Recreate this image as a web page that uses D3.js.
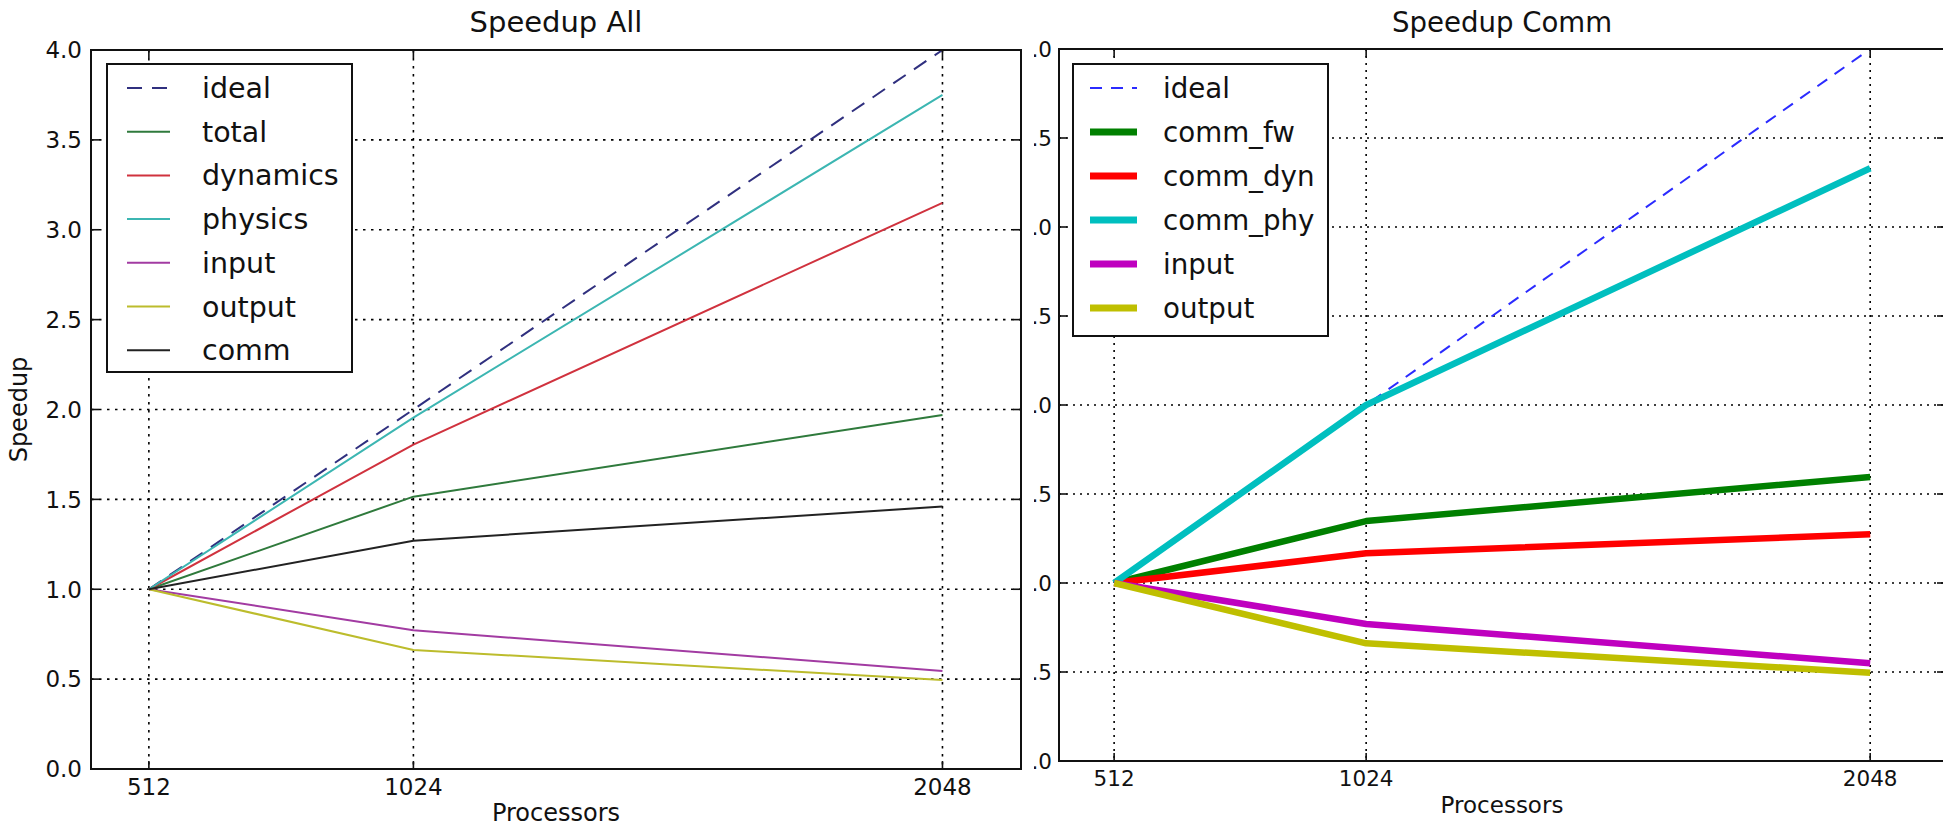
<!DOCTYPE html>
<html>
<head>
<meta charset="utf-8">
<script src="https://cdn.jsdelivr.net/npm/d3@7"></script>
<style>
  html, body { margin: 0; padding: 0; background: #fff; }
  svg { display: block; font-family: "DejaVu Sans", sans-serif; }
</style>
</head>
<body>
<svg id="chart"></svg>
<script>
const width = 1943;
const height = 827;

// data
const procs = [512, 1024, 2048];
const yTicks = [0, 0.5, 1, 1.5, 2, 2.5, 3, 3.5, 4];

// Speedup All
const allNames = ["ideal", "total", "dynamics", "physics", "input", "output", "comm"];
const allIdeal = [1, 2, 4];
const allTotal = [1, 1.515, 1.97];
const allDynamics = [1, 1.805, 3.15];
const allPhysics = [1, 1.955, 3.75];
const allInput = [1, 0.772, 0.545];
const allOutput = [1, 0.662, 0.495];
const allComm = [1, 1.27, 1.46];
const allColors = ["#30307f", "#2f7a3c", "#d0323e", "#3cb6b2", "#a23ba2", "#bcbc2c", "#222222"];

// Speedup Comm
const commNames = ["ideal", "comm_fw", "comm_dyn", "comm_phy", "input", "output"];
const commIdeal = [1, 2, 4];
const commFw = [1, 1.348, 1.596];
const commDyn = [1, 1.167, 1.274];
const commPhy = [1, 2.0, 3.33];
const commInput = [1, 0.77, 0.549];
const commOutput = [1, 0.661, 0.496];
const commColors = ["#2b2bff", "#008000", "#ff0000", "#00bfbf", "#bf00bf", "#bfbf00"];

const svg = d3.select("#chart").attr("width", width).attr("height", height);
svg.append("rect").attr("width", width).attr("height", height).attr("fill", "#fff");

function drawPanel(opt, names, series, colors) {
  const g = svg.append("g");
  if (opt.clipX != null) {
    svg.append("clipPath").attr("id", "clip" + opt.id)
      .append("rect").attr("x", opt.clipX).attr("y", 0).attr("width", width).attr("height", height);
    g.attr("clip-path", `url(#clip${opt.id})`);
  }

  const x = d3.scaleLinear().domain([400, 2200]).range([opt.left, opt.right]);
  const y = d3.scaleLinear().domain([0, 4]).range([opt.bottom, opt.top]);

  // grid
  const grid = g.append("g").attr("stroke", "#000").attr("stroke-width", 1.6)
    .attr("stroke-dasharray", opt.gridDash);
  grid.selectAll("line.gx").data(procs).join("line")
    .attr("x1", d => x(d)).attr("x2", d => x(d))
    .attr("y1", opt.top).attr("y2", opt.bottom);
  grid.selectAll("line.gy").data(yTicks.slice(1, -1)).join("line")
    .attr("y1", d => y(d)).attr("y2", d => y(d))
    .attr("x1", opt.left).attr("x2", opt.right);

  // lines
  const line = d3.line().x((d, i) => x(procs[i])).y(d => y(d));
  series.forEach((s, i) => {
    const isIdeal = i === 0;
    g.append("path")
      .attr("d", line(s))
      .attr("fill", "none")
      .attr("stroke", colors[i])
      .attr("stroke-width", isIdeal ? opt.idealWidth : opt.lineWidth)
      .attr("stroke-dasharray", isIdeal ? opt.idealDash : null)
      .attr("stroke-linejoin", "round");
  });

  // ticks inward on all sides
  const tk = 8;
  const ticks = g.append("g").attr("stroke", "#111").attr("stroke-width", 1.6);
  procs.forEach(p => {
    ticks.append("line").attr("x1", x(p)).attr("x2", x(p)).attr("y1", opt.bottom).attr("y2", opt.bottom - tk);
    ticks.append("line").attr("x1", x(p)).attr("x2", x(p)).attr("y1", opt.top).attr("y2", opt.top + tk);
  });
  yTicks.forEach(v => {
    ticks.append("line").attr("y1", y(v)).attr("y2", y(v)).attr("x1", opt.left).attr("x2", opt.left + tk);
    ticks.append("line").attr("y1", y(v)).attr("y2", y(v)).attr("x1", opt.right).attr("x2", opt.right - tk);
  });

  // frame
  g.append("rect")
    .attr("x", opt.left).attr("y", opt.top)
    .attr("width", opt.right - opt.left).attr("height", opt.bottom - opt.top)
    .attr("fill", "none").attr("stroke", "#111").attr("stroke-width", 2);

  // tick labels
  g.selectAll("text.yt").data(yTicks).join("text")
    .attr("x", opt.yLabelX).attr("y", d => y(d) + opt.tickFont * 0.36)
    .attr("text-anchor", "end").attr("font-size", opt.tickFont).attr("fill", "#111")
    .text(d => d3.format(".1f")(d));
  g.selectAll("text.xt").data(procs).join("text")
    .attr("x", d => x(d)).attr("y", opt.xLabelY)
    .attr("text-anchor", "middle").attr("font-size", opt.tickFont).attr("fill", "#111")
    .text(d => d);

  // titles
  g.append("text").attr("x", (opt.left + opt.right) / 2).attr("y", 32)
    .attr("text-anchor", "middle").attr("font-size", opt.titleFont).attr("fill", "#111")
    .text(opt.title);
  g.append("text").attr("x", (opt.left + opt.right) / 2).attr("y", opt.xTitleY)
    .attr("text-anchor", "middle").attr("font-size", opt.axisFont).attr("fill", "#111")
    .text("Processors");
  if (opt.yTitle) {
    g.append("text")
      .attr("transform", `translate(27,${(opt.top + opt.bottom) / 2}) rotate(-90)`)
      .attr("text-anchor", "middle").attr("font-size", opt.axisFont).attr("fill", "#111")
      .text(opt.yTitle);
  }

  // legend
  const lg = g.append("g");
  lg.append("rect")
    .attr("x", opt.legend.x0).attr("y", opt.legend.y0)
    .attr("width", opt.legend.x1 - opt.legend.x0).attr("height", opt.legend.y1 - opt.legend.y0)
    .attr("fill", "#fff").attr("stroke", "#111").attr("stroke-width", 2);
  names.forEach((n, i) => {
    const ly = opt.legend.firstY + i * opt.legend.step;
    const isIdeal = i === 0;
    lg.append("line")
      .attr("x1", opt.legend.sx0).attr("x2", opt.legend.sx1)
      .attr("y1", ly).attr("y2", ly)
      .attr("stroke", colors[i])
      .attr("stroke-width", isIdeal ? opt.idealWidth : opt.legendLineWidth)
      .attr("stroke-dasharray", isIdeal ? opt.idealDash : null);
    lg.append("text")
      .attr("x", opt.legend.tx).attr("y", ly + 10)
      .attr("font-size", opt.legendFont).attr("fill", "#111")
      .text(n);
  });
}

drawPanel({
  id: "L", left: 91, right: 1021, top: 50, bottom: 769,
  gridDash: "2.5,5.5", lineWidth: 2, idealWidth: 2, idealDash: "15,10", legendLineWidth: 2,
  tickFont: 23, titleFont: 29, axisFont: 24, legendFont: 28.5,
  yLabelX: 82, xLabelY: 795, xTitleY: 821, title: "Speedup All", yTitle: "Speedup",
  legend: { x0: 107, x1: 352, y0: 64, y1: 372, firstY: 88, step: 43.7, sx0: 127, sx1: 170, tx: 202 }
}, allNames, [allIdeal, allTotal, allDynamics, allPhysics, allInput, allOutput, allComm], allColors);

drawPanel({
  id: "R", left: 1059, right: 1945, top: 49, bottom: 761, clipX: 1034,
  gridDash: "2,5", lineWidth: 6.5, idealWidth: 2, idealDash: "12,9", legendLineWidth: 7,
  tickFont: 21.5, titleFont: 27.6, axisFont: 23, legendFont: 27.7,
  yLabelX: 1052, xLabelY: 786, xTitleY: 813, title: "Speedup Comm", yTitle: null,
  legend: { x0: 1073, x1: 1328, y0: 64, y1: 336, firstY: 88, step: 44, sx0: 1090, sx1: 1137, tx: 1163 }
}, commNames, [commIdeal, commFw, commDyn, commPhy, commInput, commOutput], commColors);
</script>
</body>
</html>
